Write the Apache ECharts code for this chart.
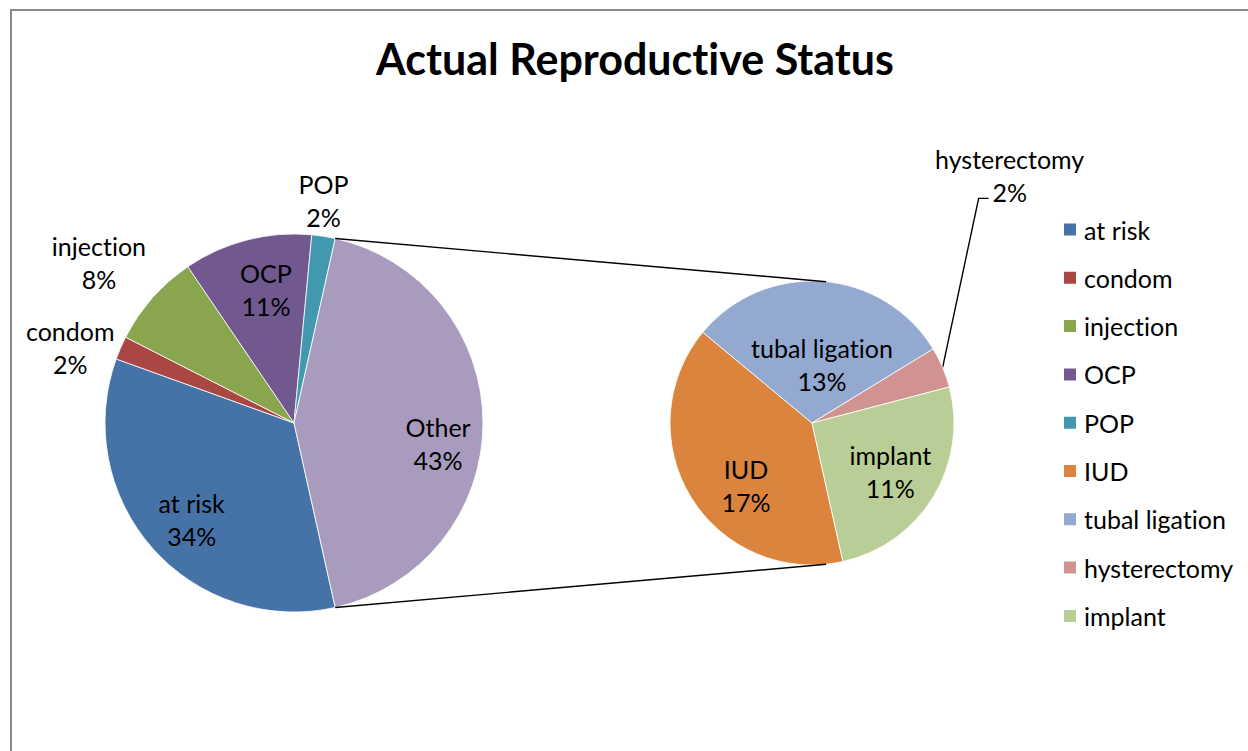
<!DOCTYPE html>
<html><head><meta charset="utf-8">
<script src="https://cdn.jsdelivr.net/npm/echarts@6/dist/echarts.min.js"></script>
<style>html,body{margin:0;padding:0;background:#fff;overflow:hidden}#c{width:1248px;height:751px;display:block}
#c, #c text, #c svg {font-variant-ligatures: none; font-feature-settings: "liga" 0, "clig" 0;}</style>
</head><body><div id="c"></div>
<script>
// ---------- data ----------
const titleText = 'Actual Reproductive Status';
const mainCategories = ['at risk', 'condom', 'injection', 'OCP', 'POP'];
const mainValues = [34, 2, 8, 11, 2];
const otherName = 'Other';
const subCategories = ['IUD', 'tubal ligation', 'hysterectomy', 'implant'];
const subValues = [17, 13, 2, 11];
const legendOrder = ['at risk', 'condom', 'injection', 'OCP', 'POP', 'IUD', 'tubal ligation', 'hysterectomy', 'implant'];

// ---------- style ----------
const colorMap = {
  'at risk': '#4572A7', 'condom': '#AA4643', 'injection': '#89A54E', 'OCP': '#71588F',
  'POP': '#4198AF', 'IUD': '#DB843D', 'tubal ligation': '#93A9CF', 'hysterectomy': '#D19392',
  'implant': '#B9CD96', 'Other': '#A99BBD'
};
const FONT = 'Lato, "Open Sans", sans-serif';
const LABEL_SIZE = 25, LABEL_LH = 33;
const MAIN = { cx: 294, cy: 423, r: 189 };
const SUB = { cx: 812, cy: 423, r: 142 };
const START = 282.6;             // echarts degrees (ccw from 3 o'clock)
const SUB_CONNECT = 84.3;        // connector touch angle on the secondary pie
const outsideLabels = ['condom', 'injection', 'POP'];
// inside label placement: fraction of radius and angle tweak (degrees, clockwise positive)
const insideTweak = {
  'at risk': { f: 0.745, da: -2 }, 'OCP': { f: 0.72, da: 2.5 }, 'Other': { f: 0.77, da: 8 },
  'IUD': { f: 0.64, da: -12 }, 'tubal ligation': { f: 0.42, da: 5.5 }, 'implant': { f: 0.65, da: 0.6 }
};
const hystOffset = { dx: 67, dy: -192 };

const otherValue = subValues.reduce((a, b) => a + b, 0);
const mainNames = mainCategories.concat([otherName]);
const mainAll = mainValues.concat([otherValue]);

function midAngles(vals) {
  const tot = vals.reduce((a, b) => a + b, 0);
  let a = START; const res = [];
  vals.forEach(v => { const span = v / tot * 360; res.push({ a0: a, a1: a - span, mid: a - span / 2 }); a -= span; });
  return res;
}
const mainAng = midAngles(mainAll);
const subAng = midAngles(subValues);
const rad = d => d * Math.PI / 180;
const pt = (c, r, deg) => [c.cx + r * Math.cos(rad(deg)), c.cy - r * Math.sin(rad(deg))];
const clamp = (v, a, b) => Math.max(a, Math.min(b, v));
const fac = v => Math.sign(v) * clamp((Math.abs(v) - 0.4) / 0.25, 0, 1);

function layoutLabel(params) {
  const isMain = params.seriesIndex === 0;
  const names = isMain ? mainNames : subCategories;
  const angs = isMain ? mainAng : subAng;
  const C = isMain ? MAIN : SUB;
  const name = names[params.dataIndex];
  const ang = angs[params.dataIndex];
  const w = params.labelRect.width, h = params.labelRect.height;
  if (isMain && outsideLabels.indexOf(name) >= 0) {
    const P = pt(C, C.r, ang.mid);
    const dx = Math.cos(rad(ang.mid)), dy = -Math.sin(rad(ang.mid));
    return { x: P[0] + fac(dx) * (w / 2 + 6), y: P[1] + fac(dy) * (h / 2 + 3), align: 'center', verticalAlign: 'middle' };
  }
  if (!isMain && name === 'hysterectomy') {
    const P = pt(C, C.r, ang.mid);
    const x = P[0] + hystOffset.dx, y = P[1] + hystOffset.dy;
    return { x: x, y: y, align: 'center', verticalAlign: 'middle',
      labelLinePoints: [P, [x - 31, y + 23], [x - 21, y + 23]] };
  }
  const t = insideTweak[name] || { f: 0.7, da: 0 };
  const P = pt(C, C.r * t.f, ang.mid - t.da);
  return { x: P[0], y: P[1], align: 'center', verticalAlign: 'middle' };
}

const labelBase = {
  show: true, position: 'inside', formatter: '{b}\n{c}%', color: '#000',
  fontFamily: FONT, fontSize: LABEL_SIZE, lineHeight: LABEL_LH, align: 'center'
};

const mainData = mainNames.map((n, i) => ({ name: n, value: mainAll[i], itemStyle: { color: colorMap[n] } }));
const subData = subCategories.map((n, i) => {
  const d = { name: n, value: subValues[i], itemStyle: { color: colorMap[n] } };
  if (n === 'hysterectomy') {
    d.label = { position: 'outside' };
    d.labelLine = { show: true, lineStyle: { color: '#000', width: 1.4 } };
  }
  return d;
});

// connector lines
const oA = mainAng[mainAng.length - 1];
const c1a = pt(MAIN, MAIN.r, oA.a0), c1b = pt(SUB, SUB.r, SUB_CONNECT);
const c2a = pt(MAIN, MAIN.r, oA.a1), c2b = pt(SUB, SUB.r, -SUB_CONNECT);

const chart = echarts.init(document.getElementById('c'), null, { renderer: 'svg', width: 1248, height: 751 });
chart.setOption({
  animation: false,
  backgroundColor: '#fff',
  title: {
    text: titleText, left: 635, top: 37, textAlign: 'center', padding: 0,
    textStyle: { fontFamily: FONT, fontWeight: 'bold', fontSize: 43, color: '#000' }
  },
  legend: {
    orient: 'vertical', left: 1062, top: 217, padding: 0, itemGap: 23.3,
    itemWidth: 14, itemHeight: 14, icon: 'rect', selectedMode: false,
    data: legendOrder,
    textStyle: { fontFamily: FONT, fontSize: LABEL_SIZE, lineHeight: 25, color: '#000', padding: [0, 0, 0, 2] }
  },
  graphic: [
    { type: 'line', shape: { x1: 10, y1: 10, x2: 1248, y2: 10 }, style: { stroke: '#888', lineWidth: 2 }, silent: true },
    { type: 'line', shape: { x1: 11, y1: 9, x2: 11, y2: 751 }, style: { stroke: '#888', lineWidth: 2 }, silent: true },
    { type: 'line', shape: { x1: c1a[0], y1: c1a[1], x2: c1b[0], y2: c1b[1] }, style: { stroke: '#000', lineWidth: 1.4 }, silent: true, z: 10 },
    { type: 'line', shape: { x1: c2a[0], y1: c2a[1], x2: c2b[0], y2: c2b[1] }, style: { stroke: '#000', lineWidth: 1.4 }, silent: true, z: 10 }
  ],
  series: [
    {
      type: 'pie', center: [MAIN.cx, MAIN.cy], radius: MAIN.r, startAngle: START, clockwise: true,
      avoidLabelOverlap: false, data: mainData, silent: true,
      itemStyle: { borderColor: '#fff', borderWidth: 0.8 },
      label: labelBase, labelLine: { show: false }, labelLayout: layoutLabel
    },
    {
      type: 'pie', center: [SUB.cx, SUB.cy], radius: SUB.r, startAngle: START, clockwise: true,
      avoidLabelOverlap: false, data: subData, silent: true,
      itemStyle: { borderColor: '#fff', borderWidth: 0.8 },
      label: labelBase, labelLine: { show: false }, labelLayout: layoutLabel
    }
  ]
});
</script></body></html>
